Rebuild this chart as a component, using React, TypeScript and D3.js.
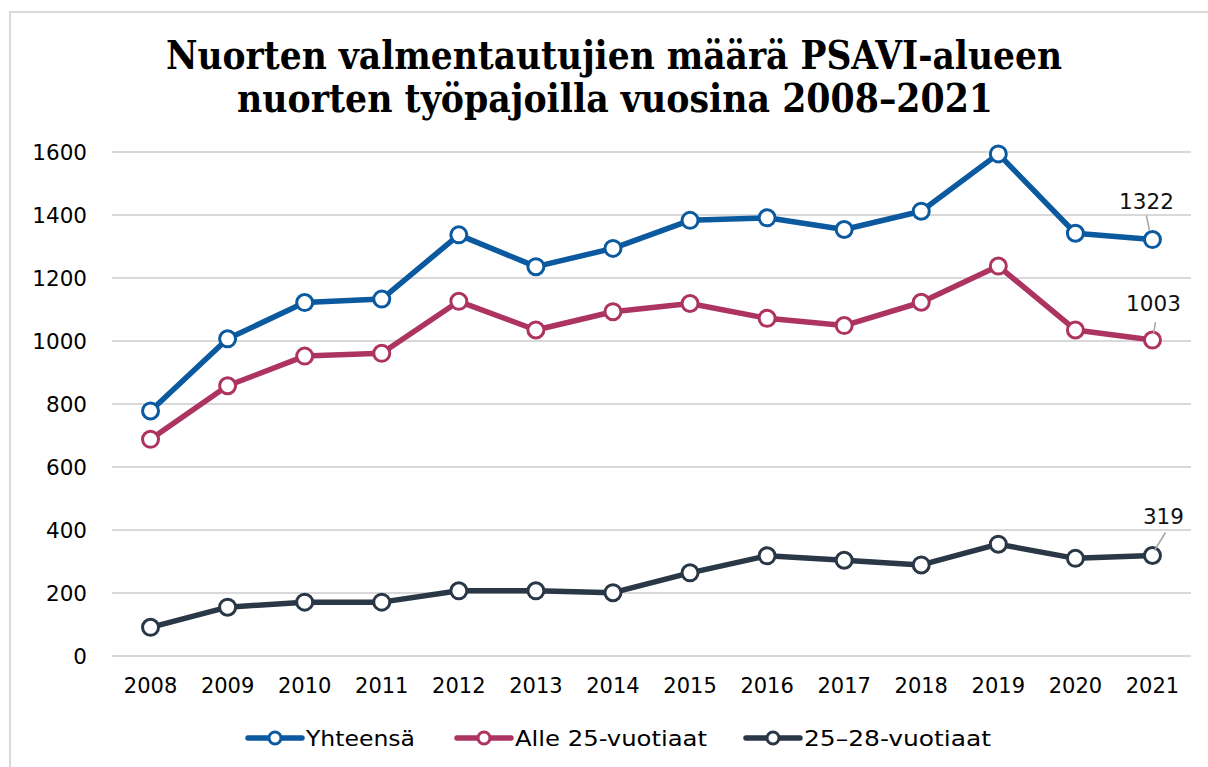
import React from "react";
import * as d3 from "d3";

const years = ["2008", "2009", "2010", "2011", "2012", "2013", "2014", "2015", "2016", "2017", "2018", "2019", "2020", "2021"];
const yhteensa = [778, 1007, 1122, 1133, 1337, 1236, 1294, 1383, 1391, 1354, 1412, 1594, 1342, 1322];
const alle25 = [688, 858, 952, 961, 1126, 1035, 1093, 1119, 1072, 1049, 1123, 1238, 1035, 1003];
const v25_28 = [91, 155, 171, 171, 207, 207, 201, 264, 318, 304, 289, 355, 310, 319];
const yTicks = [0, 200, 400, 600, 800, 1000, 1200, 1400, 1600];
const titleLines = ["Nuorten valmentautujien määrä PSAVI-alueen", "nuorten työpajoilla vuosina 2008–2021"];

const series = [
  { name: "Yhteensä", values: yhteensa, color: "#0B5AA0", label: { dx: -6, dy: -31, lx1: -6, ly1: -24, lx2: -3, ly2: -9 } },
  { name: "Alle 25-vuotiaat", values: alle25, color: "#AD3460", label: { dx: 1, dy: -29, lx1: 3, ly1: -18, lx2: 1, ly2: -6 } },
  { name: "25–28-vuotiaat", values: v25_28, color: "#2A3747", label: { dx: 11, dy: -32, lx1: 13, ly1: -23, lx2: 2, ly2: -5 } },
];

const W = 1208;
const H = 767;
const left = 112;
const right = 1191;
const top = 152;
const bottom = 656;
const font = "'DejaVu Sans', Verdana, sans-serif";

export default function App() {
  const x = d3.scaleBand<string>().domain(years).range([left, right]);
  const y = d3.scaleLinear().domain([0, 1600]).range([bottom, top]);
  const cx = (yr: string) => (x(yr) ?? 0) + x.bandwidth() / 2;
  const line = d3
    .line<number>()
    .x((_, i) => cx(years[i]))
    .y((d) => y(d));

  const legendItems = [
    { x: 248, tx: 306, w: 109 },
    { x: 457, tx: 515, w: 192 },
    { x: 746, tx: 804, w: 187 },
  ];
  const legendY = 738;
  const last = years.length - 1;

  return (
    <svg width={W} height={H} style={{ position: "absolute", left: 0, top: 0, background: "#fff" }}>
      <rect x={10} y={12} width={W + 20} height={H + 20} fill="#fff" stroke="#d9d9d9" strokeWidth={2} />

      {/* Title */}
      <text
        x={614}
        y={69}
        textAnchor="middle"
        fontFamily="'DejaVu Serif Condensed', 'DejaVu Serif', serif"
        fontWeight="bold"
        fontSize={39}
        textLength={896}
        lengthAdjust="spacingAndGlyphs"
        fill="#000"
      >
        {titleLines[0]}
      </text>
      <text
        x={615}
        y={112}
        textAnchor="middle"
        fontFamily="'DejaVu Serif Condensed', 'DejaVu Serif', serif"
        fontWeight="bold"
        fontSize={39}
        textLength={756}
        lengthAdjust="spacingAndGlyphs"
        fill="#000"
      >
        {titleLines[1]}
      </text>

      {/* Gridlines and y labels */}
      {yTicks.map((t) => (
        <g key={t}>
          <line x1={left} x2={right} y1={y(t)} y2={y(t)} stroke="#d9d9d9" strokeWidth={2} />
          <text x={87} y={y(t)} dy="0.36em" textAnchor="end" fontFamily={font} fontSize={21.5} fill="#000">
            {t}
          </text>
        </g>
      ))}

      {/* X labels */}
      {years.map((yr) => (
        <text key={yr} x={cx(yr)} y={693} textAnchor="middle" fontFamily={font} fontSize={21} fill="#000">
          {yr}
        </text>
      ))}

      {/* Lines */}
      {series.map((s) => (
        <g key={s.name}>
          <path d={line(s.values) ?? ""} fill="none" stroke={s.color} strokeWidth={5.5} strokeLinejoin="round" />
          {s.values.map((v, i) => (
            <circle key={i} cx={cx(years[i])} cy={y(v)} r={8} fill="#fff" stroke={s.color} strokeWidth={3} />
          ))}
        </g>
      ))}

      {/* Last-value labels */}
      {series.map((s) => {
        const px = cx(years[last]);
        const py = y(s.values[last]);
        return (
          <g key={s.name + "-lbl"}>
            <line
              x1={px + s.label.lx1}
              y1={py + s.label.ly1}
              x2={px + s.label.lx2}
              y2={py + s.label.ly2}
              stroke="#a6a6a6"
              strokeWidth={1.5}
            />
            <text x={px + s.label.dx} y={py + s.label.dy} textAnchor="middle" fontFamily={font} fontSize={21.5} fill="#111">
              {s.values[last]}
            </text>
          </g>
        );
      })}

      {/* Legend */}
      {series.map((s, i) => (
        <g key={s.name + "-leg"}>
          <line x1={legendItems[i].x} x2={legendItems[i].x + 54} y1={legendY} y2={legendY} stroke={s.color} strokeWidth={5.5} strokeLinecap="round" />
          <circle cx={legendItems[i].x + 27} cy={legendY} r={6} fill="#fff" stroke={s.color} strokeWidth={3} />
          <text
            x={legendItems[i].tx}
            y={legendY}
            dy="0.36em"
            fontFamily={font}
            fontSize={22}
            textLength={legendItems[i].w}
            lengthAdjust="spacingAndGlyphs"
            fill="#000"
          >
            {s.name}
          </text>
        </g>
      ))}
    </svg>
  );
}
